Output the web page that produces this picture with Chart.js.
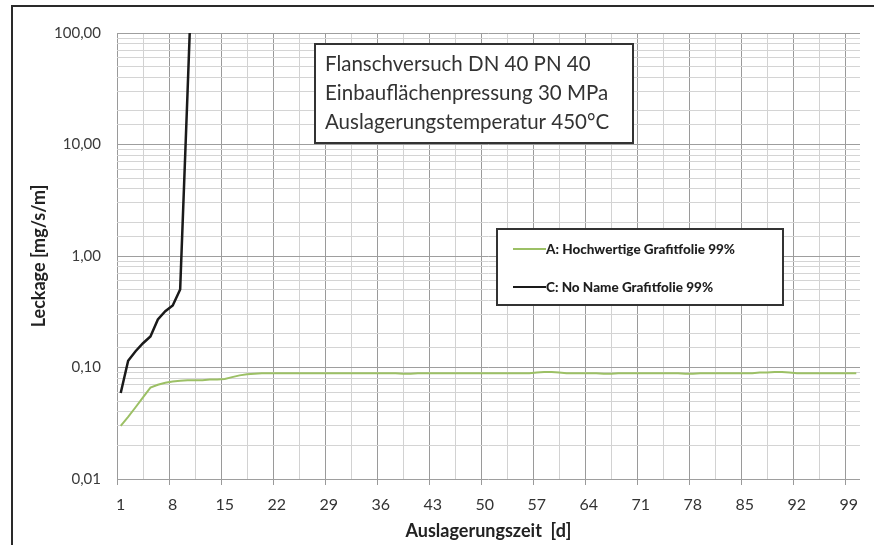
<!DOCTYPE html>
<html>
<head>
<meta charset="utf-8">
<script src="https://cdn.jsdelivr.net/npm/chart.js@4.4.1/dist/chart.umd.min.js"></script>
<style>
  html, body { margin: 0; padding: 0; background: #fff; }
  #wrap { position: relative; width: 874px; height: 545px; overflow: hidden; }
  #frame { position: absolute; left: 11px; top: 5px; width: 900px; height: 600px;
           border-left: 2px solid #2a2a2a; border-top: 2px solid #2a2a2a; pointer-events: none; }
</style>
</head>
<body>
<div id="wrap">
  <canvas id="chart" width="874" height="545"></canvas>
  <div id="frame"></div>
</div>
<script>
// Beschriftung der x-Achse (jeder 7. Tag)
const tageLabels = ["1", "8", "15", "22", "29", "36", "43", "50", "57", "64", "71", "78", "85", "92", "99"];

// A: Hochwertige Grafitfolie 99% (Tag 1..100)
const leckageA = [
  0.030, 0.036, 0.044, 0.054, 0.066, 0.070, 0.073, 0.075, 0.076, 0.077,
  0.077, 0.077, 0.078, 0.078, 0.079, 0.082, 0.085, 0.087, 0.088, 0.089,
  0.089, 0.089, 0.089, 0.089, 0.089, 0.089, 0.089, 0.089, 0.089, 0.089,
  0.089, 0.089, 0.089, 0.089, 0.089, 0.089, 0.089, 0.089, 0.088, 0.088,
  0.089, 0.089, 0.089, 0.089, 0.089, 0.089, 0.089, 0.089, 0.089, 0.089,
  0.089, 0.089, 0.089, 0.089, 0.089, 0.089, 0.090, 0.091, 0.091, 0.090,
  0.089, 0.089, 0.089, 0.089, 0.089, 0.088, 0.088, 0.089, 0.089, 0.089,
  0.089, 0.089, 0.089, 0.089, 0.089, 0.089, 0.088, 0.088, 0.089, 0.089,
  0.089, 0.089, 0.089, 0.089, 0.089, 0.089, 0.090, 0.090, 0.091, 0.091,
  0.090, 0.089, 0.089, 0.089, 0.089, 0.089, 0.089, 0.089, 0.089, 0.089
];

// C: No Name Grafitfolie 99% (Tag 1..11, danach ausserhalb der Skala)
const leckageC = [0.059, 0.115, 0.14, 0.165, 0.19, 0.27, 0.32, 0.36, 0.5, 30, 2000];

const infoText = [
  "Flanschversuch DN 40 PN 40",
  "Einbauflächenpressung 30 MPa",
  "Auslagerungstemperatur 450°C"
];

const FONT = 'Lato, "Open Sans", sans-serif';

const toPoints = (arr) => arr.map((v, i) => ({ x: i + 1, y: v }));
const isDecade = (v) => Math.abs(Math.log10(v) - Math.round(Math.log10(v))) < 1e-6;

// Gitterlinien alle 3,5 Tage, beschriftet alle 7 Tage
const gridPos = [];
for (let k = 0; k <= 28; k++) gridPos.push(0.5 + 3.5 * k);

const boxesPlugin = {
  id: "boxes",
  afterDraw(chart) {
    const ctx = chart.ctx;
    ctx.save();

    // Textkasten oben
    ctx.fillStyle = "#fff";
    ctx.fillRect(315, 44, 318, 99);
    ctx.strokeStyle = "#333";
    ctx.lineWidth = 2;
    ctx.strokeRect(315, 44, 318, 99);
    ctx.fillStyle = "#333";
    ctx.font = "20.5px " + FONT;
    ctx.textBaseline = "middle";
    infoText.forEach((t, i) => ctx.fillText(t, 325, 64 + i * 29));

    // Legende
    ctx.fillStyle = "#fff";
    ctx.fillRect(497, 229, 286, 76);
    ctx.strokeStyle = "#333";
    ctx.strokeRect(497, 229, 286, 76);
    const rows = [249, 287];
    chart.data.datasets.forEach((ds, i) => {
      ctx.strokeStyle = ds.borderColor;
      ctx.lineWidth = 2;
      ctx.beginPath();
      ctx.moveTo(513, rows[i]);
      ctx.lineTo(546, rows[i]);
      ctx.stroke();
      ctx.fillStyle = "#1e1e1e";
      ctx.font = "900 13.5px " + FONT;
      ctx.fillText(ds.label, 546, rows[i] + 1);
    });
    ctx.restore();
  }
};

new Chart(document.getElementById("chart"), {
  type: "line",
  data: {
    datasets: [
      {
        label: "A: Hochwertige Grafitfolie 99%",
        data: toPoints(leckageA),
        borderColor: "#9cc065",
        borderWidth: 2,
        pointRadius: 0,
        tension: 0
      },
      {
        label: "C: No Name Grafitfolie 99%",
        data: toPoints(leckageC),
        borderColor: "#1a1a1a",
        borderWidth: 2.5,
        pointRadius: 0,
        tension: 0
      }
    ]
  },
  options: {
    responsive: false,
    animation: false,
    layout: { padding: { left: 0, right: 14, top: 33, bottom: 0 } },
    plugins: {
      legend: { display: false },
      tooltip: { enabled: false }
    },
    scales: {
      x: {
        type: "linear",
        min: 0.5,
        max: 100.5,
        afterBuildTicks(axis) {
          axis.ticks = gridPos.map((v) => ({ value: v }));
        },
        afterFit(scale) { scale.height = 66; },
        grid: {
          color: (c) => (c.index % 2 === 0 ? "#9a9a9a" : "#d2d2d2"),
          tickColor: (c) => (c.index % 2 === 0 ? "#9a9a9a" : "rgba(0,0,0,0)"),
          tickLength: 6
        },
        border: { display: false },
        ticks: {
          autoSkip: false,
          maxRotation: 0,
          padding: 10,
          labelOffset: 3.7,
          color: "#333",
          font: { family: FONT, size: 16 },
          callback: (v, i) => (i % 2 === 0 ? tageLabels[i / 2] : "")
        },
        title: {
          display: true,
          text: "Auslagerungszeit  [d]",
          color: "#222",
          font: { family: FONT, size: 18, weight: "bold" },
          padding: { top: 0, bottom: 3 }
        }
      },
      y: {
        type: "logarithmic",
        min: 0.01,
        max: 100,
        afterFit(scale) { scale.width = 117; },
        grid: {
          color: (c) => (isDecade(c.tick.value) ? "#9e9e9e" : "#d4d4d4"),
          drawTicks: false
        },
        border: { display: false },
        ticks: {
          autoSkip: false,
          padding: 16,
          color: "#3a3a3a",
          font: { family: FONT, size: 15 },
          callback: (v) => (isDecade(v) ? Number(v).toFixed(2).replace(".", ",") : "")
        },
        title: {
          display: true,
          text: "Leckage [mg/s/m]",
          color: "#222",
          font: { family: FONT, size: 18, weight: "bold" },
          padding: { top: 28, bottom: 0 }
        }
      }
    }
  },
  plugins: [boxesPlugin]
});
</script>
</body>
</html>
